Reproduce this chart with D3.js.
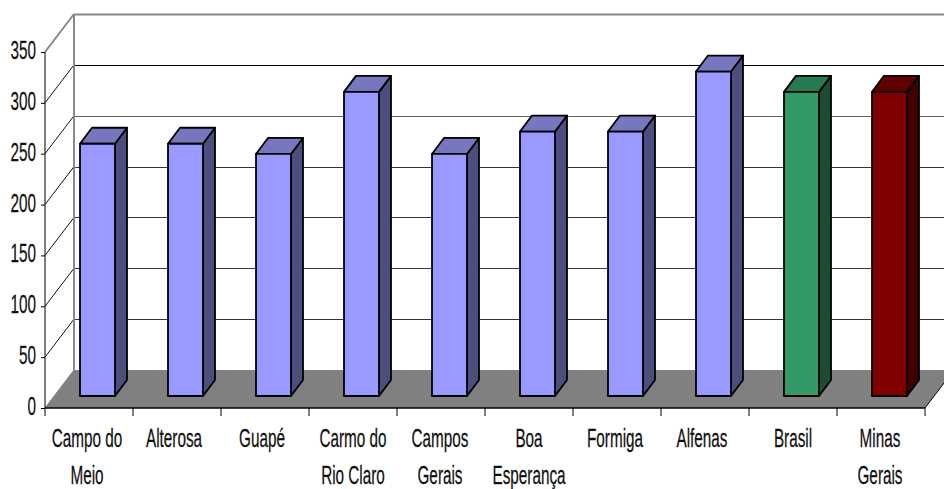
<!DOCTYPE html>
<html><head><meta charset="utf-8">
<script src="https://cdn.jsdelivr.net/npm/d3@7"></script>
<style>html,body{margin:0;padding:0;background:#fff;overflow:hidden}svg{display:block}text{font-family:"Liberation Sans",Arial,sans-serif;fill:#111;stroke:#111;stroke-width:0.25px}</style>
</head><body><svg id="c" width="944" height="489"></svg>
<script>
const categories = [["Campo do","Meio"],["Alterosa"],["Guapé"],["Carmo do","Rio Claro"],["Campos","Gerais"],["Boa","Esperança"],["Formiga"],["Alfenas"],["Brasil"],["Minas","Gerais"]];
const values = [248,248,238,299,238,260,260,319,299,299];
const faceColors = ["#9999ff","#9999ff","#9999ff","#9999ff","#9999ff","#9999ff","#9999ff","#9999ff","#339966","#800000"];
const topColors = ["#7777c0","#7777c0","#7777c0","#7777c0","#7777c0","#7777c0","#7777c0","#7777c0","#287a50","#600000"];
const sideColors = ["#4d4d80","#4d4d80","#4d4d80","#4d4d80","#4d4d80","#4d4d80","#4d4d80","#4d4d80","#1a4d33","#400000"];
const yTicks = [0,50,100,150,200,250,300,350];
const labelCentres = [87,174,262,353,440,529,615,702,793,880];

const svg = d3.select("#c");
const x = d3.scaleBand().domain(d3.range(categories.length)).range([45,925]);
const y = d3.scaleLinear().domain([0,350]).range([408,52]);
const wallDx = 29, wallDy = -38, barInset = 35, barW = 35, barLift = 12, depthX = 12, depthY = -16;

svg.append("path").attr("d",d3.line()([[45,408],[45+wallDx,408+wallDy],[925+wallDx,408+wallDy],[925,408]])+"Z").attr("fill","#808080");
svg.append("line").attr("x1",925).attr("y1",408).attr("x2",925+wallDx).attr("y2",408+wallDy).attr("stroke","#000");

const grid = svg.append("g").attr("fill","none");
yTicks.forEach(t=>{
  const yy = y(t), top = t===350, base = t===0;
  if(!base){
    grid.append("line").attr("x1",45).attr("y1",yy).attr("x2",45+wallDx).attr("y2",yy+wallDy)
      .attr("stroke",top?"#888":"#111").attr("stroke-width",top?2:1);
    grid.append("line").attr("x1",45+wallDx).attr("y1",Math.round(yy+wallDy)+0.5).attr("x2",944).attr("y2",Math.round(yy+wallDy)+0.5)
      .attr("stroke",top?"#888":(t===300?"#000":t===250?"#666":"#333")).attr("stroke-width",top?2:1.2);
  }
});
grid.append("line").attr("x1",45+wallDx).attr("y1",y(350)+wallDy).attr("x2",45+wallDx).attr("y2",408+wallDy).attr("stroke","#888").attr("stroke-width",2);
grid.append("line").attr("x1",45).attr("y1",408).attr("x2",45+wallDx).attr("y2",408+wallDy).attr("stroke","#808080");

const bars = svg.append("g").selectAll("g").data(values).join("g")
  .attr("stroke","#000").attr("stroke-width",1.8).attr("stroke-linejoin","round");
const h = v => y(0)-y(v);
bars.append("path").attr("fill",(d,i)=>sideColors[i]).attr("d",(d,i)=>{
  const l=x(i)+barInset+barW, b=408-barLift, t=b-h(d);
  return d3.line()([[l,b],[l,t],[l+depthX,t+depthY],[l+depthX,b+depthY]])+"Z";
});
bars.append("path").attr("fill",(d,i)=>topColors[i]).attr("d",(d,i)=>{
  const l=x(i)+barInset, b=408-barLift, t=b-h(d);
  return d3.line()([[l,t],[l+depthX,t+depthY],[l+barW+depthX,t+depthY],[l+barW,t]])+"Z";
});
bars.append("rect").attr("fill",(d,i)=>faceColors[i])
  .attr("x",(d,i)=>x(i)+barInset).attr("width",barW)
  .attr("y",d=>408-barLift-h(d)).attr("height",d=>h(d));

const yAxis = d3.axisLeft(y).tickValues(yTicks).tickSize(4).tickFormat("");
const gy = svg.append("g").attr("transform","translate(45,0)").call(yAxis);
gy.selectAll("path,line").attr("stroke","#000");
gy.select("path").attr("d","M0,52V408");
const gx = svg.append("g").attr("transform","translate(0,408)");
gx.append("line").attr("x1",45).attr("x2",925).attr("stroke","#000").attr("stroke-width",1.3);
gx.selectAll("line.t").data(d3.range(categories.length+1)).join("line").attr("class","t")
  .attr("x1",i=>i<categories.length?x(i):925).attr("x2",i=>i<categories.length?x(i):925)
  .attr("y1",0).attr("y2",8).attr("stroke","#000");

const squeeze = 0.6, fs = 25.5;
svg.append("g").selectAll("text").data(yTicks).join("text")
  .attr("font-size",fs).attr("text-anchor","end")
  .attr("transform",d=>`translate(36,${y(d)+7}) scale(${squeeze},1)`)
  .text(d=>d);
svg.append("g").selectAll("g").data(categories).join("g").each(function(lines,i){
  d3.select(this).selectAll("text").data(lines).join("text")
    .attr("font-size",fs).attr("text-anchor","middle")
    .attr("transform",(l,j)=>`translate(${labelCentres[i]},${447+j*36.5}) scale(${squeeze},1)`)
    .text(l=>l);
});
</script></body></html>
